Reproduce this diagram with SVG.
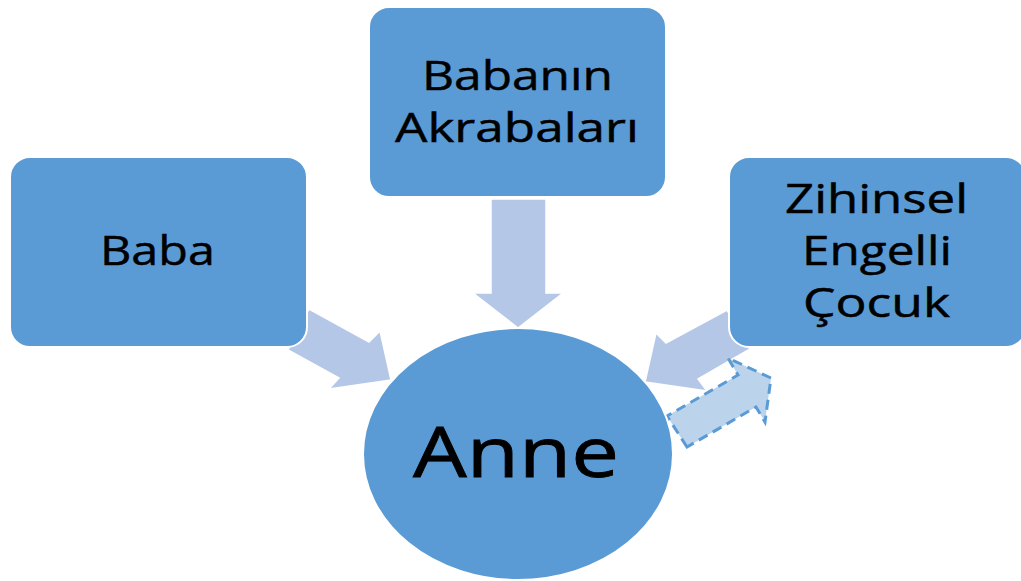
<svg xmlns="http://www.w3.org/2000/svg" width="1021" height="581" viewBox="0 0 1021 581">
<style>
.box{fill:#5b9bd5;stroke:#ffffff;stroke-width:2}
.arr{fill:#b4c7e7;stroke:#ffffff;stroke-width:1.5}
.dash{fill:#bcd3ec;stroke:#5b9bd5;stroke-width:3;stroke-dasharray:10 6}
.t{font-family:"Open Sans","Noto Sans",sans-serif;font-size:41px;fill:#000;stroke:#000;stroke-width:0.5;text-anchor:middle}
.big{font-size:70px;stroke-width:0.8}
</style>
<rect width="1021" height="581" fill="#ffffff"/>
<g id="connectors">
<polygon class="arr" points="491,199 546,199 546,293 563,293 518,328 473,293 491,293"/>
<polygon class="arr" points="309,309 369,342 380,331 391,380 329,389 339,378 288,350"/>
<polygon class="arr" points="727,310 666,343 656,333 645,382 707,391 698,379 750,349"/>
<polygon class="dash" points="687,447 667,416 738,375 728,358 771,378 765,422 756,407"/>
</g>
<g id="node-baba">
<rect class="box" x="10" y="157" width="297" height="190" rx="20"/>
<text class="t" x="157.5" y="265" textLength="115" lengthAdjust="spacingAndGlyphs">Baba</text>
</g>
<g id="node-akrabalar">
<rect class="box" x="369" y="7" width="297" height="190" rx="20"/>
<text class="t" x="517.5" y="90" textLength="191" lengthAdjust="spacingAndGlyphs">Babanın</text>
<text class="t" x="517" y="142" textLength="244" lengthAdjust="spacingAndGlyphs">Akrabaları</text>
</g>
<g id="node-cocuk">
<rect class="box" x="729" y="157" width="297" height="190" rx="20"/>
<text class="t" x="876.5" y="213" textLength="183" lengthAdjust="spacingAndGlyphs">Zihinsel</text>
<text class="t" x="877" y="265" textLength="150" lengthAdjust="spacingAndGlyphs">Engelli</text>
<text class="t" x="876.5" y="317" textLength="147" lengthAdjust="spacingAndGlyphs">Çocuk</text>
</g>
<g id="node-anne">
<ellipse class="box" cx="518" cy="454" rx="155" ry="126"/>
<text class="t big" x="516" y="477" textLength="206" lengthAdjust="spacingAndGlyphs">Anne</text>
</g>
</svg>
